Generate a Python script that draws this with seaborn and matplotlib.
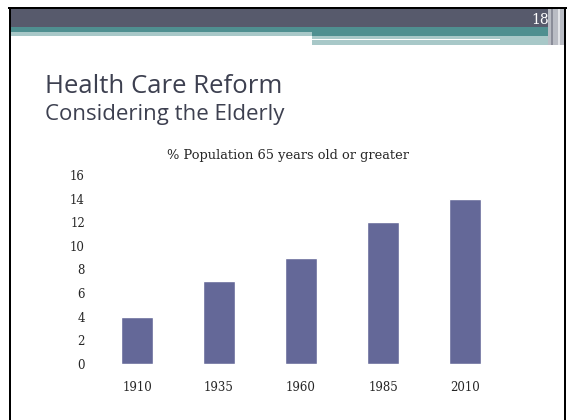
import numpy as np
import pandas as pd
import matplotlib
matplotlib.use("Agg")
import matplotlib.pyplot as plt
from matplotlib.patches import Rectangle
import seaborn as sns

# datos
years = ["1910", "1935", "1960", "1985", "2010"]
pct_65 = [4, 7, 9, 12, 14]
y_ticks = [0, 2, 4, 6, 8, 10, 12, 14, 16]

df = pd.DataFrame({"year": years, "pct": pct_65})

sns.set_style("white")
plt.rcParams["font.family"] = ["DejaVu Sans"]

W, H = 568, 420
fig = plt.figure(figsize=(W / 100, H / 100), dpi=100)

def px_rect(x0, y0, x1, y1, color):
    # rectangulo en pixeles (origen arriba a la izquierda)
    fig.patches.append(Rectangle((x0 / W, 1 - y1 / H), (x1 - x0) / W, (y1 - y0) / H,
                                 transform=fig.transFigure, color=color, lw=0, zorder=0))

# cabecera de la diapositiva
px_rect(10, 9, 548, 27, "#575a6c")
px_rect(10, 27, 548, 32, "#4f8f90")
px_rect(312, 32, 548, 36, "#4f8f90")
px_rect(10, 32, 312, 36, "#a8c8c8")
px_rect(312, 36, 548, 45, "#a8c8c8")
px_rect(312, 38.5, 500, 40, "#ffffff")
px_rect(548, 9, 565, 45, "#b9bcc4")
px_rect(551, 9, 553, 45, "#8a8d99")
px_rect(558, 9, 560, 45, "#e2e4e8")
# bordes
px_rect(8, 7, 567, 9, "#000000")
px_rect(9, 7, 11, 420, "#000000")
px_rect(564, 7, 566, 420, "#000000")

fig.text(540 / W, 1 - 20 / H, "18", color="white", fontsize=10,
         family="DejaVu Serif", ha="center", va="center")

fig.text(45 / W, 1 - 93 / H, "Health Care Reform", color="#3d4050",
         fontsize=18.5, family="Open Sans", ha="left", va="baseline")
fig.text(45 / W, 1 - 120 / H, "Considering the Elderly", color="#3d4050",
         fontsize=16, family="Open Sans", ha="left", va="baseline")

ax = fig.add_axes([96 / W, 1 - 364 / H, 410 / W, 189 / H])
sns.barplot(data=df, x="year", y="pct", color="#646898", width=0.39,
            saturation=1, ax=ax)
ax.set_ylim(0, 16)
ax.set_yticks(y_ticks)
ax.set_xlabel("")
ax.set_ylabel("")
sns.despine(ax=ax, left=True, bottom=True)
ax.tick_params(length=0, labelsize=8.5)
ax.tick_params(axis="y", pad=8)
ax.tick_params(axis="x", pad=12)
for lab in ax.get_xticklabels() + ax.get_yticklabels():
    lab.set_family("DejaVu Serif")
ax.set_facecolor("none")

fig.text(288 / W, 1 - 155 / H, "% Population 65 years old or greater",
         fontsize=9.4, family="DejaVu Serif", ha="center", va="center")

fig.savefig("out.png", dpi=100)
